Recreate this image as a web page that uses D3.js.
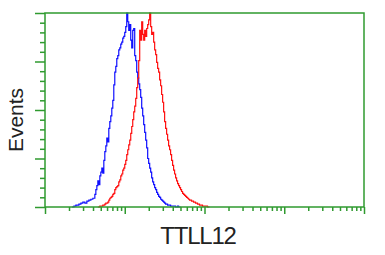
<!DOCTYPE html>
<html>
<head>
<meta charset="utf-8">
<script src="https://cdn.jsdelivr.net/npm/d3@7"></script>
<style>
  body { margin: 0; background: #fff; }
  svg { display: block; font-family: "Liberation Sans", Arial, sans-serif; }
</style>
</head>
<body>
<svg id="chart"></svg>
<script>
// histogram bins: 320 bins over 4 log decades, counts
const binWidth = 0.0125
const blueStart = 27
const redStart = 53
const blueCounts = [0,0,1,1,2,2,2,3,3,4,4,5,5,4,4,6,6,7,7,8,8,9,9,13,18,22,27,23,32,36,40,35,48,57,63,71,67,81,88,94,102,110,126,139,145,153,156,162,164,168,170,174,176,180,186,200,191,182,188,172,164,182,184,156,151,139,133,127,121,113,102,94,85,77,69,61,50,45,40,36,30,26,23,20,18,15,13,11,10,8,7,6,5,4,3,3,2,2,2,1,1,1,1,1,0,0,1,0,0]
const redCounts = [0,0,1,1,1,2,2,3,4,4,5,7,9,10,11,13,14,18,20,21,22,26,28,32,34,38,40,44,48,54,59,64,69,76,83,90,98,104,112,123,133,151,182,172,191,178,172,182,176,184,188,193,200,186,178,180,170,162,157,149,143,139,131,125,116,108,98,88,81,75,69,63,59,54,48,43,38,34,30,27,24,22,20,18,16,14,13,12,11,10,9,8,7,7,6,6,5,5,4,4,3,3,2,2,2,1,1,1,1,1,0,0]
const yMajorTicks = [0, 50, 100, 150, 200]
const xLabel = 'TTLL12'
const yLabel = 'Events'

const width = 385
const height = 255
const margin = {top: 13, right: 21, bottom: 48, left: 45}
const green = '#2f9a2f'

const svg = d3.select('#chart').attr('width', width).attr('height', height)

const xDec = d3.scaleLinear().domain([0, 4]).range([margin.left, width - margin.right])
const xLog = d3.scaleLog().domain([1, 1e4]).range([margin.left, width - margin.right])
const yScale = d3.scaleLinear().domain([0, 200]).range([height - margin.bottom, margin.top])

const toPoints = (counts, start) => {
    const pts = counts.map((c, i) => [(start + i) * binWidth, c])
    pts.push([(start + counts.length) * binWidth, counts[counts.length - 1]])
    return pts
}

const line = d3.line()
    .x(d => xDec(d[0]))
    .y(d => yScale(d[1]))
    .curve(d3.curveStepAfter)

// axes
const majorX = [1, 10, 100, 1000, 10000]
const minorX = []
for (let k = 0; k < 4; k++) {
    for (let m = 2; m < 10; m++) minorX.push(m * Math.pow(10, k))
}
const minorY = d3.range(0, 201, 10).filter(v => v % 50 !== 0)

const bottom = height - margin.bottom
const styleAxis = g => {
    g.select('.domain').remove()
    g.selectAll('line').attr('stroke', green).attr('stroke-width', 1.5)
}

svg.append('g').attr('transform', `translate(0,${bottom})`)
    .call(d3.axisBottom(xLog).tickValues(majorX).tickSize(7).tickFormat(''))
    .call(styleAxis)
svg.append('g').attr('transform', `translate(0,${bottom})`)
    .call(d3.axisBottom(xLog).tickValues(minorX).tickSize(4).tickFormat(''))
    .call(styleAxis)
svg.append('g').attr('transform', `translate(${margin.left},0)`)
    .call(d3.axisLeft(yScale).tickValues(yMajorTicks).tickSize(10).tickFormat(''))
    .call(styleAxis)
svg.append('g').attr('transform', `translate(${margin.left},0)`)
    .call(d3.axisLeft(yScale).tickValues(minorY).tickSize(5).tickFormat(''))
    .call(styleAxis)

// histograms
svg.append('path')
    .datum(toPoints(blueCounts, blueStart))
    .attr('d', line)
    .attr('fill', 'none')
    .attr('stroke', '#1010ff')
    .attr('stroke-width', 1.2)

svg.append('path')
    .datum(toPoints(redCounts, redStart))
    .attr('d', line)
    .attr('fill', 'none')
    .attr('stroke', '#ff1010')
    .attr('stroke-width', 1.2)

// frame
svg.append('rect')
    .attr('x', margin.left)
    .attr('y', margin.top)
    .attr('width', width - margin.left - margin.right)
    .attr('height', height - margin.top - margin.bottom)
    .attr('fill', 'none')
    .attr('stroke', green)
    .attr('stroke-width', 1.5)

// labels
svg.append('text')
    .attr('x', 198)
    .attr('y', 244)
    .attr('text-anchor', 'middle')
    .attr('font-size', 24)
    .attr('letter-spacing', -1.2)
    .attr('fill', '#222')
    .text(xLabel)

svg.append('text')
    .attr('transform', 'translate(23,120) rotate(-90)')
    .attr('text-anchor', 'middle')
    .attr('font-size', 21)
    .attr('fill', '#222')
    .text(yLabel)
</script>
</body>
</html>
